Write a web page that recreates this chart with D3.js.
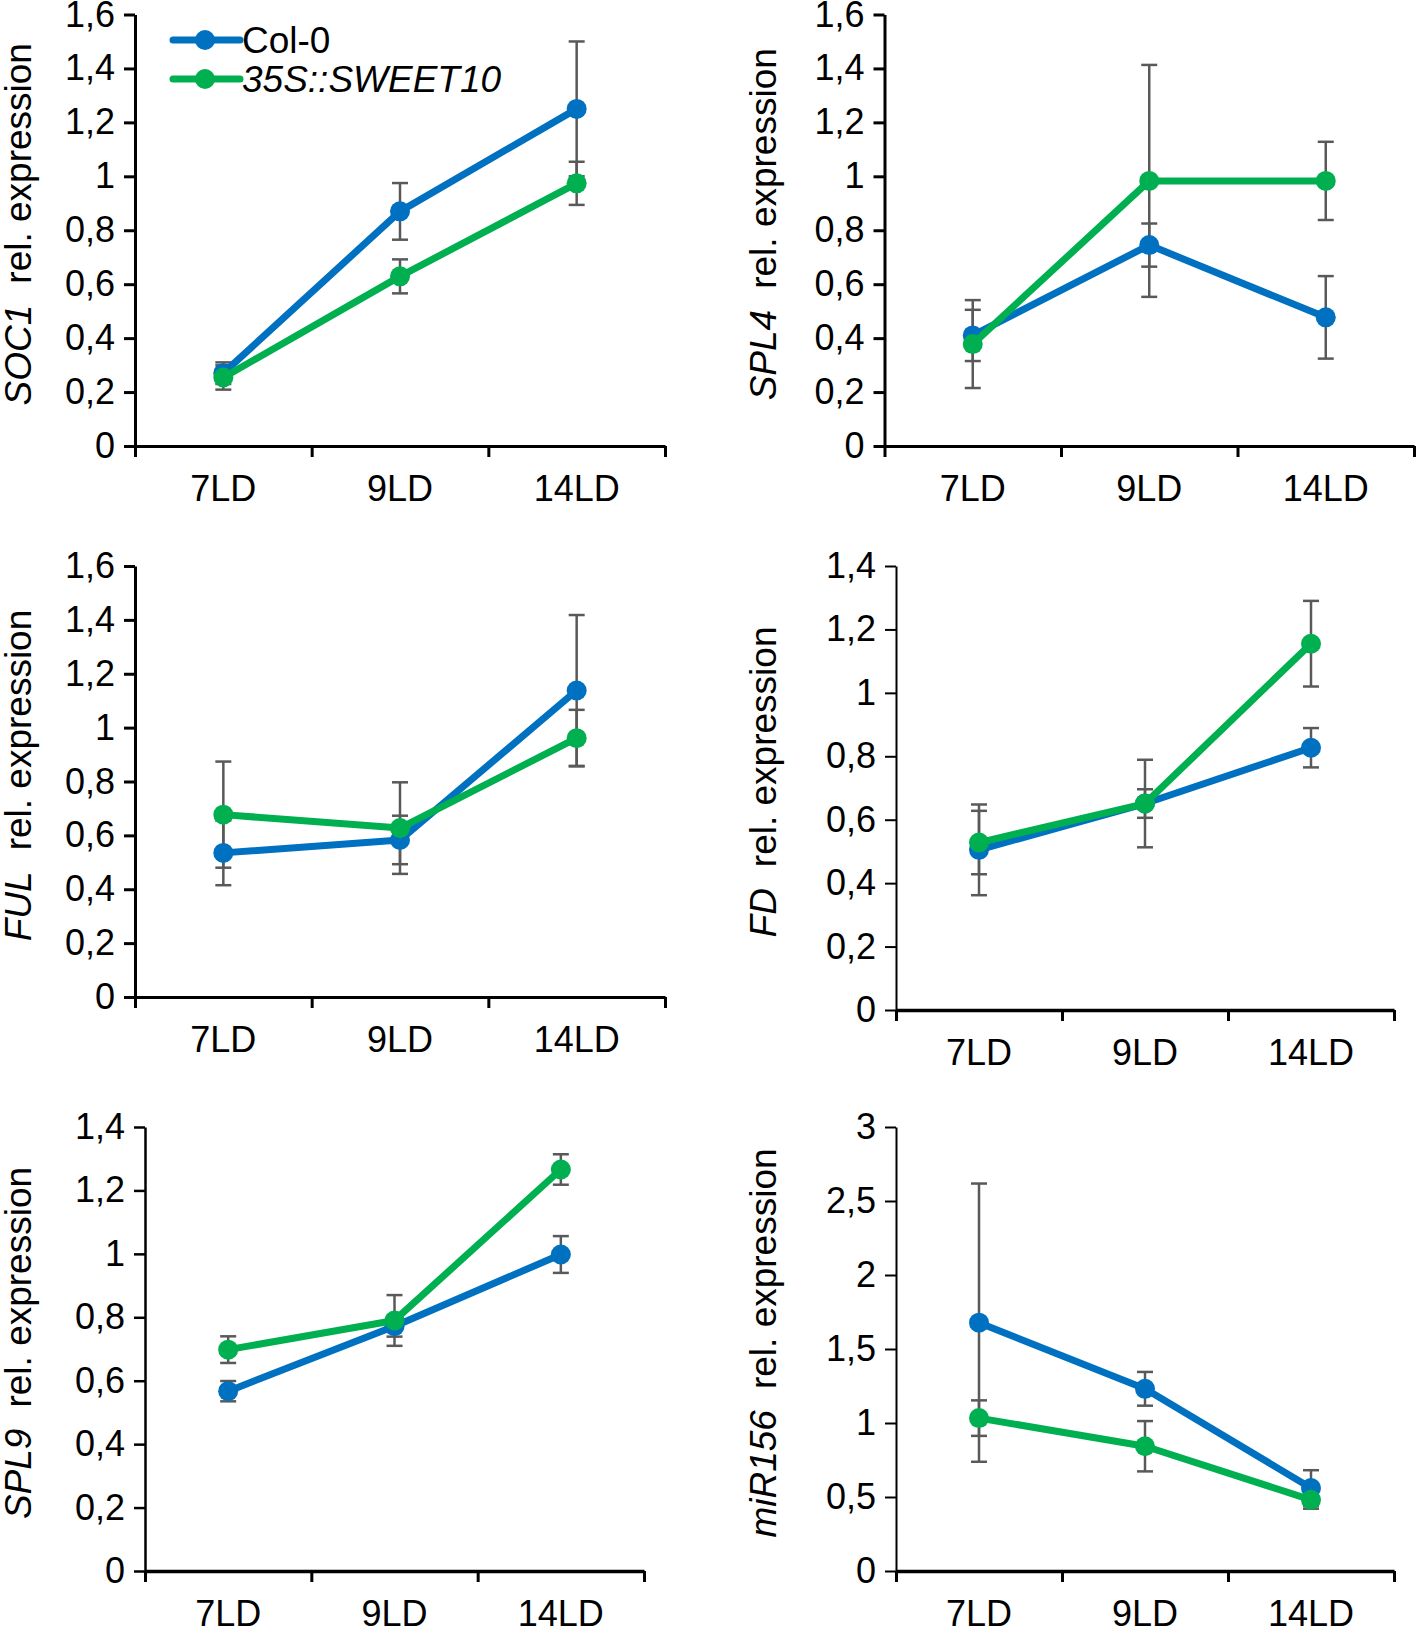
<!DOCTYPE html>
<html>
<head>
<meta charset="utf-8">
<script src="https://cdn.jsdelivr.net/npm/d3@7"></script>
<style>
  html, body { margin: 0; padding: 0; background: #fff; }
  svg { display: block; font-family: "Liberation Sans", Arial, sans-serif; }
</style>
</head>
<body>
<svg id="chart" width="1418" height="1628"></svg>
<script>
// ---------- data ----------
const categories = ["7LD", "9LD", "14LD"];
const genes = ["SOC1", "SPL4", "FUL", "FD", "SPL9", "miR156"];
const seriesNames = ["Col-0", "35S::SWEET10"];
const yMaxima = [1.6, 1.6, 1.6, 1.4, 1.4, 3];
const yTickSteps = [0.2, 0.2, 0.2, 0.2, 0.2, 0.5];

const col0Values = [
  [0.27, 0.87, 1.25],
  [0.41, 0.745, 0.477],
  [0.535, 0.583, 1.138],
  [0.505, 0.651, 0.827],
  [0.567, 0.772, 0.998],
  [1.678, 1.231, 0.561]
];
const col0Errors = [
  [0.04, 0.105, 0.25],
  [0.095, 0.08, 0.153],
  [0.12, 0.09, 0.28],
  [0.143, 0.045, 0.062],
  [0.032, 0.033, 0.058],
  [0.94, 0.114, 0.12]
];
const sweetValues = [
  [0.254, 0.629, 0.974],
  [0.378, 0.983, 0.983],
  [0.677, 0.627, 0.961],
  [0.528, 0.651, 1.155],
  [0.698, 0.79, 1.266],
  [1.033, 0.843, 0.481]
];
const sweetErrors = [
  [0.045, 0.063, 0.08],
  [0.163, 0.43, 0.145],
  [0.197, 0.17, 0.105],
  [0.10, 0.138, 0.135],
  [0.042, 0.08, 0.048],
  [0.12, 0.17, 0.06]
];

// ---------- layout (positions / styles) ----------
const frames = [
  { x0: 135, x1: 665, yTop: 14.5, yZero: 446, titleX: 18, yAxisW: 3, xAxisW: 3 },
  { x0: 884.5, x1: 1414, yTop: 14.5, yZero: 446, titleX: 763, yAxisW: 3, xAxisW: 3 },
  { x0: 135, x1: 665, yTop: 566, yZero: 997, titleX: 18, yAxisW: 3, xAxisW: 3 },
  { x0: 896, x1: 1394, yTop: 566, yZero: 1010, titleX: 763, yAxisW: 2, xAxisW: 3.5 },
  { x0: 145, x1: 644, yTop: 1127, yZero: 1571, titleX: 18, yAxisW: 2.5, xAxisW: 3.5 },
  { x0: 896, x1: 1394, yTop: 1127, yZero: 1571, titleX: 763, yAxisW: 2, xAxisW: 3.5 }
];
const colors = ["#0070C0", "#00B050"];
const errColor = "#595959";
const fontSize = 36;

const svg = d3.select("#chart");
const fmt = v => String(+v.toFixed(2)).replace(".", ",");

genes.forEach((gene, i) => {
  const f = frames[i];
  const g = svg.append("g");
  const x = d3.scaleBand().domain(categories).range([f.x0, f.x1]);
  const xLin = d3.scaleLinear().domain([0, categories.length]).range([f.x0, f.x1]);
  const y = d3.scaleLinear().domain([0, yMaxima[i]]).range([f.yZero, f.yTop]);
  const ticks = d3.range(0, yMaxima[i] + yTickSteps[i] / 2, yTickSteps[i]).map(v => +v.toFixed(2));

  // y axis
  const ya = g.append("g").attr("transform", `translate(${f.x0},0)`)
    .call(d3.axisLeft(y).tickValues(ticks).tickFormat(fmt).tickSize(11).tickSizeOuter(0).tickPadding(9));
  ya.select(".domain").attr("stroke", "#000").attr("stroke-width", f.yAxisW);
  ya.selectAll(".tick line").attr("stroke", "#000").attr("stroke-width", f.yAxisW);
  ya.selectAll(".tick text").attr("font-size", fontSize).attr("fill", "#000")
    .attr("font-family", "'Liberation Sans', Arial, sans-serif");

  // x axis: boundary ticks
  const xa = g.append("g").attr("transform", `translate(0,${f.yZero})`)
    .call(d3.axisBottom(xLin).tickValues(d3.range(0, categories.length + 1)).tickFormat("").tickSize(11).tickSizeOuter(0));
  xa.select(".domain").attr("stroke", "#000").attr("stroke-width", f.xAxisW);
  xa.selectAll(".tick line").attr("stroke", "#000").attr("stroke-width", 3);

  // x category labels
  const xl = g.append("g").attr("transform", `translate(0,${f.yZero})`)
    .call(d3.axisBottom(x).tickSize(0).tickPadding(29));
  xl.select(".domain").remove();
  xl.selectAll(".tick text").attr("font-size", fontSize).attr("fill", "#000")
    .attr("font-family", "'Liberation Sans', Arial, sans-serif");

  // y title
  const cy = (f.yTop + f.yZero) / 2 - 6;
  const t = g.append("text")
    .attr("transform", `translate(${f.titleX},${cy}) rotate(-90)`)
    .attr("text-anchor", "middle").attr("dominant-baseline", "central")
    .attr("font-size", 37).attr("fill", "#000");
  t.append("tspan").attr("font-style", "italic").text(gene);
  t.append("tspan").attr("dx", 21).text("rel. expression");

  const series = [
    { vals: col0Values[i], errs: col0Errors[i] },
    { vals: sweetValues[i], errs: sweetErrors[i] }
  ];
  const cx = c => x(c) + x.bandwidth() / 2;
  const capW = 8;

  // error bars (behind)
  series.forEach(s => {
    const eg = g.append("g").attr("stroke", errColor).attr("stroke-width", 2.5).attr("fill", "none");
    categories.forEach((c, k) => {
      const hi = y(s.vals[k] + s.errs[k]), lo = y(s.vals[k] - s.errs[k]);
      eg.append("line").attr("x1", cx(c)).attr("x2", cx(c)).attr("y1", hi).attr("y2", lo);
      eg.append("line").attr("x1", cx(c) - capW).attr("x2", cx(c) + capW).attr("y1", hi).attr("y2", hi);
      eg.append("line").attr("x1", cx(c) - capW).attr("x2", cx(c) + capW).attr("y1", lo).attr("y2", lo);
    });
  });

  // lines + markers
  const line = d3.line().x((d, k) => cx(categories[k])).y(d => y(d));
  series.forEach((s, si) => {
    g.append("path").datum(s.vals).attr("d", line)
      .attr("fill", "none").attr("stroke", colors[si]).attr("stroke-width", 7)
      .attr("stroke-linejoin", "round");
    g.selectAll(null).data(s.vals).enter().append("circle")
      .attr("cx", (d, k) => cx(categories[k])).attr("cy", d => y(d))
      .attr("r", 10).attr("fill", colors[si]);
  });
});

// legend
const lg = svg.append("g");
seriesNames.forEach((name, si) => {
  const ly = 40 + si * 39;
  lg.append("line").attr("x1", 173).attr("x2", 240).attr("y1", ly).attr("y2", ly)
    .attr("stroke", colors[si]).attr("stroke-width", 7).attr("stroke-linecap", "round");
  lg.append("circle").attr("cx", 205).attr("cy", ly).attr("r", 10).attr("fill", colors[si]);
  lg.append("text").attr("x", 242).attr("y", ly + 13).attr("font-size", 37).attr("fill", "#000")
    .attr("font-style", si === 1 ? "italic" : "normal").text(name);
});
</script>
</body>
</html>
